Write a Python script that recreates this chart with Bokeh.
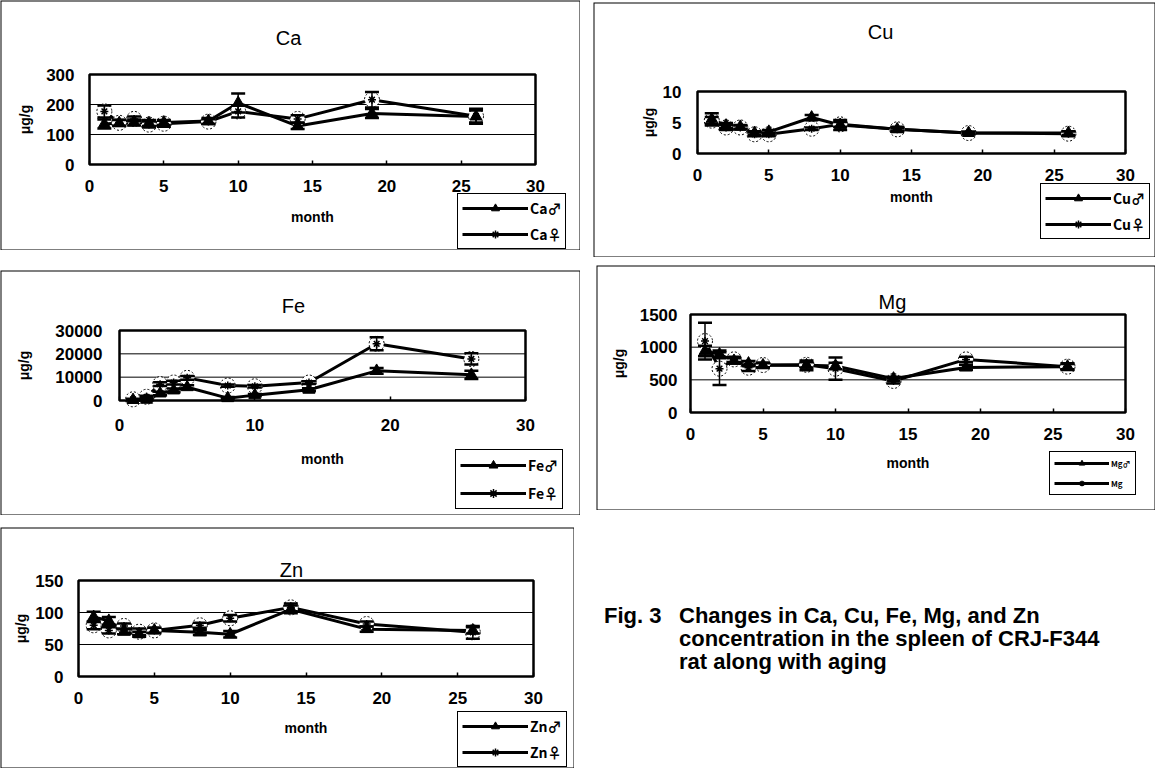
from bokeh.plotting import figure
from bokeh.models import (Range1d, FixedTicker, Legend, LegendItem, Label, BoxAnnotation,
                          Whisker, TeeHead, ColumnDataSource, Div)
from bokeh.layouts import row, column
from bokeh.embed import file_html
from bokeh.resources import INLINE

# ---------------- data ----------------
months = [1, 2, 3, 4, 5, 8, 10, 14, 19, 26]
X_MIN, X_MAX = 0, 30

ca_male = [135, 138, 140, 138, 140, 145, 205, 128, 170, 160]
ca_male_sd = [15, 10, 10, 10, 8, 10, 32, 10, 15, 20]
ca_female = [177, 139, 152, 133, 136, 143, 177, 152, 216, 161]
ca_female_sd = [20, 10, 8, 10, 10, 8, 20, 12, 26, 25]

cu_male = [5.5, 4.5, 4.3, 3.3, 3.5, 5.8, 4.6, 3.9, 3.3, 3.3]
cu_male_sd = [1.0, 0.4, 0.3, 0.3, 0.3, 0.4, 0.8, 0.2, 0.2, 0.3]
cu_female = [5.3, 4.2, 4.2, 3.1, 3.1, 4.0, 4.7, 3.9, 3.3, 3.2]
cu_female_sd = [0.6, 0.4, 0.3, 0.3, 0.3, 0.2, 0.4, 0.4, 0.2, 0.4]

fe_male = [200, 300, 3000, 4300, 5700, 1000, 2300, 4600, 12700, 11000]
fe_male_sd = [200, 300, 800, 800, 800, 500, 500, 600, 1200, 1800]
fe_female = [500, 1600, 7000, 7700, 9700, 6400, 6100, 7700, 24300, 17800]
fe_female_sd = [300, 400, 800, 800, 800, 500, 500, 600, 2800, 2400]

mg_male = [940, 890, 790, 750, 722, 722, 712, 519, 690, 702]
mg_male_sd = [80, 60, 40, 40, 30, 75, 50, 30, 40, 40]
mg_female = [1093, 671, 813, 686, 727, 730, 671, 483, 813, 702]
mg_female_sd = [280, 250, 40, 50, 40, 40, 170, 40, 40, 50]

zn_male = [93, 87, 70, 66, 72, 69, 66, 105, 74, 72]
zn_male_sd = [8, 6, 4, 4, 4, 4, 5, 6, 4, 5]
zn_female = [80, 72, 79, 70, 72, 80, 91, 108, 82, 69]
zn_female_sd = [6, 5, 4, 5, 4, 4, 5, 6, 4, 10]

FONT = "Liberation Sans"
LEG_FONT = "Noto Sans CJK JP"


def panel(name, male, male_sd, female, female_sd, y_max, y_ticks, x_ticks, grid,
          W, H, fl, fr, ft, fb, title_xy, leg_xy, y_tick_st, y_lab_st, x_tick_st, x_lab_st,
          labels, leg_font="14px", glyph_w=66, glyph_h=20, margin=(0, 0, 0, 0)):
    # the frame covers the whole panel; the plot area (0..30, 0..y_max) sits inside it
    fw, fh = fr - fl, fb - ft
    xr = Range1d(X_MIN - fl * (X_MAX - X_MIN) / fw, X_MAX + (W - fr) * (X_MAX - X_MIN) / fw)
    yr = Range1d(-(H - fb) * y_max / fh, y_max + ft * y_max / fh)
    p = figure(width=W, height=H, x_range=xr, y_range=yr,
               output_backend="svg", toolbar_location=None, margin=margin)
    p.min_border = 0
    p.min_border_left = 0
    p.min_border_right = 0
    p.min_border_top = 0
    p.min_border_bottom = 0
    p.background_fill_color = "white"
    p.border_fill_color = "white"
    p.outline_line_color = None
    p.xgrid.visible = False
    p.ygrid.visible = False

    # axes drawn at the data origin
    p.xaxis.fixed_location = 0
    p.yaxis.fixed_location = X_MIN
    p.xaxis.ticker = FixedTicker(ticks=x_ticks)
    p.yaxis.ticker = FixedTicker(ticks=y_ticks)
    p.xaxis.bounds = (X_MIN, X_MAX)
    p.yaxis.bounds = (0, y_max)
    p.xaxis.axis_label = "month"
    p.yaxis.axis_label = "μg/g"
    p.axis.axis_line_color = None
    p.axis.minor_tick_line_color = None
    p.xaxis.major_tick_in = 4
    p.xaxis.major_tick_out = 0
    p.xaxis.major_tick_line_color = "black"
    p.xaxis.major_tick_line_width = 1.5
    p.yaxis.major_tick_in = 0
    p.yaxis.major_tick_out = 0
    p.yaxis.major_tick_line_color = None
    p.axis.major_label_text_font = FONT
    p.axis.major_label_text_font_style = "bold"
    p.axis.major_label_text_font_size = "17px"
    p.axis.major_label_text_color = "black"
    p.axis.axis_label_text_font = FONT
    p.axis.axis_label_text_font_style = "bold"
    p.axis.axis_label_text_font_size = "14px"
    p.axis.axis_label_text_color = "black"
    p.yaxis.major_label_standoff = y_tick_st
    p.yaxis.axis_label_standoff = y_lab_st
    p.xaxis.major_label_standoff = x_tick_st
    p.xaxis.axis_label_standoff = x_lab_st

    # horizontal gridlines across the plot area
    if grid:
        inner = [t for t in y_ticks if 0 < t < y_max]
        p.segment(x0=[X_MIN] * len(inner), x1=[X_MAX] * len(inner), y0=inner, y1=inner,
                  line_color="black", line_width=1)

    src = ColumnDataSource(dict(
        x=months, m=male, f=female,
        m_lo=[a - b for a, b in zip(male, male_sd)],
        m_hi=[a + b for a, b in zip(male, male_sd)],
        f_lo=[a - b for a, b in zip(female, female_sd)],
        f_hi=[a + b for a, b in zip(female, female_sd)],
    ))

    for lo, hi in (("m_lo", "m_hi"), ("f_lo", "f_hi")):
        w = Whisker(base="x", lower=lo, upper=hi, source=src, line_color="black",
                    line_width=1.5, line_alpha=1, level="glyph",
                    upper_head=TeeHead(size=14, line_width=2.5, line_color="black"),
                    lower_head=TeeHead(size=14, line_width=2.5, line_color="black"))
        p.add_layout(w)

    lm = p.line("x", "m", source=src, line_color="black", line_width=3)
    lf = p.line("x", "f", source=src, line_color="black", line_width=3)
    p.scatter("x", "f", source=src, marker="circle", size=15, fill_color="white",
              line_color="black", line_width=1, line_dash="2 2")
    fa = p.scatter("x", "f", source=src, marker="asterisk", size=8,
                   line_color="black", line_width=1.5)
    mt = p.scatter("x", "m", source=src, marker="triangle", size=12,
                   fill_color="black", line_color="black")

    # plot-area frame
    p.add_layout(BoxAnnotation(left=X_MIN, right=X_MAX, bottom=0, top=y_max,
                               fill_color=None, line_color="black", line_alpha=1,
                               line_width=2.5, level="overlay"))

    leg = Legend(items=[LegendItem(label=labels[0], renderers=[lm, mt]),
                        LegendItem(label=labels[1], renderers=[lf, fa])],
                 location=leg_xy, orientation="vertical")
    leg.border_line_color = "black"
    leg.border_line_width = 1.5
    leg.border_line_alpha = 1
    leg.background_fill_color = "white"
    leg.background_fill_alpha = 1
    leg.label_text_font = LEG_FONT
    leg.label_text_font_style = "bold"
    leg.label_text_font_size = leg_font
    leg.label_text_color = "black"
    leg.glyph_width = glyph_w
    leg.glyph_height = glyph_h
    leg.label_standoff = 2
    leg.label_height = glyph_h
    leg.padding = 4
    leg.spacing = 6
    leg.margin = 0
    p.add_layout(leg)

    p.add_layout(Label(x=title_xy[0], y=title_xy[1], x_units="canvas", y_units="canvas",
                       text=name, text_align="center", text_baseline="middle",
                       text_font=FONT, text_font_size="20px", text_color="black"))
    # chart-area border (half of the 2px line is clipped -> crisp 1px edge)
    p.add_layout(BoxAnnotation(left=0, right=W, top=0, bottom=H,
                               left_units="canvas", right_units="canvas",
                               top_units="canvas", bottom_units="canvas",
                               fill_color=None, line_color="black", line_alpha=1,
                               line_width=2, level="overlay"))
    return p


ca = panel("Ca", ca_male, ca_male_sd, ca_female, ca_female_sd, 300, [0, 100, 200, 300],
           [0, 5, 10, 15, 20, 25, 30], True,
           580, 250, 89, 535, 74, 164, (288, 37), (457, 1), 15, 10, 15, 14,
           ("Ca♂", "Ca♀"))
cu = panel("Cu", cu_male, cu_male_sd, cu_female, cu_female_sd, 10, [0, 5, 10],
           [0, 5, 10, 15, 20, 25, 30], False,
           562, 255, 104, 532, 89, 151, (287, 29), (447, 18), 16, 3, 15, 5,
           ("Cu♂", "Cu♀"), margin=(2, 0, 0, 13))
fe = panel("Fe", fe_male, fe_male_sd, fe_female, fe_female_sd, 30000,
           [0, 10000, 20000, 30000], [0, 10, 20, 30], True,
           580, 245, 119, 525, 60, 130, (293, 35), (455, 6), 17, 20, 18, 17,
           ("Fe♂", "Fe♀"), glyph_h=22, margin=(13, 0, 0, 0))
mg = panel("Mg", mg_male, mg_male_sd, mg_female, mg_female_sd, 1500,
           [0, 500, 1000, 1500], [0, 5, 10, 15, 20, 25, 30], True,
           559, 245, 94, 529, 49, 147, (296, 36), (453, 15), 13, 10, 15, 12,
           ("Mg♂", "Mg"), leg_font="8px", glyph_w=55, glyph_h=14, margin=(8, 0, 0, 16))
zn = panel("Zn", zn_male, zn_male_sd, zn_female, zn_female_sd, 150, [0, 50, 100, 150],
           [0, 5, 10, 15, 20, 25, 30], True,
           574, 241, 78, 533, 53, 149, (291, 42), (457, 1), 15, 3, 15, 13,
           ("Zn♂", "Zn♀"), margin=(12, 0, 0, 0))

caption_head = "Fig. 3"
caption_lines = ["Changes in Ca, Cu, Fe, Mg, and Zn",
                 "concentration in the spleen of CRJ-F344",
                 "rat along with aging"]
cap_html = ("<div style=\"display:flex;font-family:'Liberation Sans';font-weight:bold;"
            "font-size:22px;line-height:23px;color:black;white-space:nowrap;\">"
            f"<div style='width:75px'>{caption_head}</div>"
            f"<div>{'<br>'.join(caption_lines)}</div></div>")
cap = Div(text=cap_html, width=560, height=100, margin=(89, 0, 0, 30))

layout = column(row(ca, cu), row(fe, mg), row(zn, cap))

open("out.html", "w").write(file_html(layout, INLINE))
